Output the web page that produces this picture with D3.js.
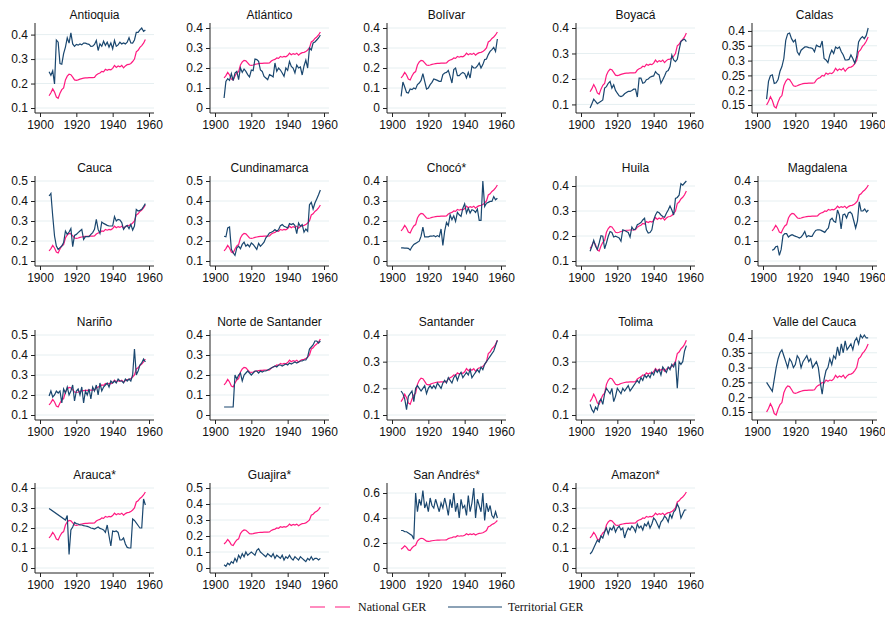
<!DOCTYPE html>
<html>
<head>
<meta charset="utf-8">
<script src="https://cdn.jsdelivr.net/npm/d3@7"></script>
<style>
  body { margin: 0; background: #fff; }
  svg { display: block; }
</style>
</head>
<body>
<svg id="chart" width="885" height="617"></svg>
<script>
// Gross enrolment ratio by territory, 1905-1958
const YEARS = d3.range(1905, 1959);

const NATIONAL = [0.150,0.162,0.178,0.165,0.145,0.140,0.160,0.175,0.182,0.215,0.230,0.238,0.236,0.226,0.215,0.213,0.215,0.218,0.220,0.222,0.223,0.223,0.224,0.224,0.224,0.225,0.235,0.240,0.243,0.250,0.248,0.258,0.254,0.258,0.256,0.262,0.274,0.266,0.272,0.268,0.274,0.264,0.272,0.277,0.278,0.282,0.290,0.300,0.330,0.336,0.348,0.355,0.365,0.380];

const ANTIOQUIA = [0.248,0.234,0.252,0.198,0.378,0.369,0.282,0.279,0.322,0.349,0.387,0.365,0.407,0.362,0.352,0.360,0.357,0.362,0.358,0.365,0.365,0.362,0.360,0.352,0.353,0.360,0.376,0.335,0.362,0.352,0.373,0.356,0.369,0.349,0.366,0.342,0.376,0.352,0.358,0.369,0.362,0.366,0.362,0.369,0.387,0.366,0.365,0.378,0.409,0.409,0.419,0.427,0.413,0.419];
const ATLANTICO = [0.050,0.133,0.147,0.138,0.172,0.137,0.175,0.183,0.142,0.200,0.178,0.195,0.183,0.167,0.155,0.190,0.187,0.245,0.242,0.233,0.190,0.183,0.158,0.150,0.142,0.167,0.162,0.155,0.225,0.183,0.200,0.190,0.175,0.158,0.200,0.188,0.233,0.208,0.200,0.175,0.215,0.200,0.205,0.165,0.210,0.240,0.200,0.300,0.290,0.325,0.330,0.340,0.350,0.365];
const BOLIVAR = [0.058,0.130,0.105,0.078,0.075,0.095,0.092,0.100,0.095,0.117,0.125,0.138,0.172,0.133,0.095,0.100,0.117,0.128,0.145,0.142,0.138,0.133,0.133,0.167,0.175,0.178,0.188,0.158,0.125,0.192,0.200,0.162,0.162,0.172,0.178,0.172,0.150,0.178,0.150,0.210,0.200,0.200,0.210,0.225,0.200,0.217,0.242,0.245,0.267,0.283,0.292,0.303,0.283,0.345];
const BOYACA = [0.086,0.103,0.121,0.112,0.103,0.108,0.112,0.118,0.164,0.170,0.183,0.190,0.164,0.177,0.155,0.144,0.134,0.131,0.134,0.142,0.147,0.151,0.151,0.155,0.160,0.160,0.129,0.203,0.203,0.183,0.186,0.197,0.200,0.207,0.210,0.212,0.229,0.220,0.216,0.183,0.197,0.212,0.229,0.233,0.249,0.294,0.275,0.268,0.277,0.314,0.347,0.353,0.356,0.347];
const CALDAS = [0.170,0.230,0.249,0.252,0.223,0.225,0.236,0.264,0.280,0.307,0.368,0.390,0.393,0.374,0.363,0.370,0.330,0.319,0.335,0.341,0.346,0.346,0.344,0.343,0.341,0.330,0.352,0.348,0.346,0.366,0.307,0.302,0.293,0.319,0.335,0.324,0.346,0.341,0.346,0.330,0.319,0.302,0.302,0.304,0.319,0.307,0.291,0.313,0.363,0.374,0.381,0.374,0.385,0.410];
const CAUCA = [0.425,0.438,0.325,0.225,0.175,0.158,0.167,0.175,0.192,0.250,0.233,0.245,0.262,0.172,0.228,0.233,0.242,0.250,0.258,0.208,0.222,0.222,0.222,0.233,0.242,0.258,0.308,0.258,0.238,0.295,0.288,0.283,0.278,0.275,0.275,0.275,0.322,0.300,0.308,0.305,0.292,0.258,0.272,0.278,0.262,0.283,0.255,0.275,0.358,0.350,0.353,0.358,0.372,0.387];
const CUNDINAMARCA = [0.224,0.221,0.265,0.270,0.158,0.141,0.128,0.166,0.174,0.161,0.183,0.194,0.174,0.183,0.171,0.190,0.183,0.171,0.158,0.188,0.174,0.183,0.194,0.216,0.227,0.240,0.244,0.249,0.257,0.249,0.257,0.277,0.282,0.274,0.270,0.265,0.287,0.282,0.287,0.277,0.237,0.290,0.274,0.282,0.244,0.260,0.249,0.381,0.393,0.360,0.390,0.410,0.431,0.455];
const CHOCO = [0.066,0.066,0.064,0.064,0.063,0.055,0.071,0.083,0.088,0.094,0.099,0.124,0.170,0.121,0.121,0.121,0.124,0.124,0.127,0.121,0.127,0.121,0.160,0.078,0.149,0.193,0.177,0.231,0.207,0.226,0.198,0.243,0.231,0.223,0.264,0.286,0.240,0.264,0.240,0.256,0.253,0.243,0.260,0.203,0.203,0.400,0.273,0.289,0.293,0.298,0.298,0.322,0.306,0.314];
const HUILA = [0.139,0.159,0.183,0.159,0.146,0.172,0.201,0.199,0.149,0.172,0.199,0.218,0.214,0.196,0.199,0.196,0.192,0.179,0.225,0.222,0.218,0.214,0.196,0.236,0.225,0.228,0.245,0.249,0.254,0.264,0.271,0.225,0.212,0.214,0.225,0.264,0.284,0.297,0.293,0.284,0.278,0.275,0.291,0.304,0.320,0.304,0.284,0.350,0.354,0.363,0.409,0.403,0.412,0.420];
const MAGDALENA = [0.054,0.058,0.071,0.074,0.028,0.058,0.127,0.137,0.137,0.120,0.127,0.132,0.127,0.123,0.120,0.115,0.120,0.132,0.148,0.120,0.127,0.123,0.123,0.140,0.153,0.156,0.156,0.153,0.148,0.143,0.156,0.165,0.206,0.214,0.198,0.193,0.255,0.230,0.160,0.230,0.235,0.215,0.240,0.245,0.235,0.200,0.165,0.200,0.296,0.250,0.250,0.260,0.245,0.255];
const NARINO = [0.195,0.220,0.190,0.200,0.220,0.210,0.220,0.160,0.230,0.210,0.240,0.200,0.220,0.250,0.170,0.220,0.230,0.200,0.240,0.160,0.220,0.200,0.230,0.180,0.240,0.220,0.250,0.200,0.260,0.220,0.240,0.250,0.260,0.240,0.270,0.260,0.270,0.260,0.280,0.270,0.270,0.260,0.280,0.270,0.280,0.270,0.300,0.430,0.300,0.320,0.350,0.360,0.380,0.365];
const NORTE_SANTANDER = [0.040,0.040,0.040,0.040,0.040,0.040,0.200,0.180,0.200,0.210,0.170,0.200,0.210,0.220,0.210,0.200,0.210,0.220,0.220,0.210,0.220,0.215,0.220,0.220,0.225,0.230,0.235,0.240,0.245,0.240,0.250,0.250,0.245,0.250,0.255,0.250,0.260,0.255,0.260,0.265,0.260,0.265,0.270,0.270,0.275,0.275,0.290,0.330,0.340,0.350,0.370,0.370,0.360,0.370];
const SANTANDER = [0.190,0.180,0.160,0.120,0.170,0.180,0.190,0.150,0.200,0.210,0.200,0.190,0.200,0.210,0.180,0.200,0.210,0.200,0.210,0.200,0.220,0.210,0.200,0.220,0.230,0.220,0.240,0.230,0.220,0.240,0.250,0.230,0.250,0.260,0.240,0.250,0.260,0.250,0.270,0.240,0.250,0.260,0.270,0.260,0.280,0.270,0.290,0.300,0.310,0.320,0.330,0.340,0.360,0.380];
const TOLIMA = [0.140,0.120,0.110,0.130,0.120,0.150,0.160,0.140,0.180,0.200,0.190,0.180,0.200,0.150,0.170,0.200,0.190,0.180,0.200,0.190,0.200,0.210,0.190,0.200,0.210,0.220,0.230,0.220,0.240,0.230,0.250,0.240,0.250,0.240,0.260,0.250,0.270,0.260,0.270,0.250,0.280,0.270,0.260,0.280,0.270,0.290,0.280,0.300,0.200,0.300,0.290,0.300,0.340,0.360];
const VALLE_CAUCA = [0.250,0.240,0.230,0.220,0.260,0.300,0.330,0.350,0.360,0.340,0.320,0.300,0.330,0.320,0.300,0.310,0.340,0.330,0.300,0.320,0.330,0.340,0.320,0.330,0.300,0.310,0.320,0.300,0.250,0.210,0.260,0.290,0.300,0.330,0.310,0.340,0.330,0.370,0.340,0.380,0.350,0.390,0.360,0.370,0.380,0.360,0.390,0.400,0.380,0.410,0.400,0.410,0.400,0.400];
const ARAUCA = [0.298,null,null,null,null,null,null,null,null,0.240,0.262,0.068,0.190,0.205,0.228,0.222,0.220,0.215,0.215,0.212,0.210,0.208,0.205,0.200,0.198,0.195,0.200,0.205,0.198,0.195,0.190,0.178,0.215,0.160,0.110,0.185,0.182,0.185,0.178,0.140,0.140,0.150,0.120,0.103,0.100,0.100,0.245,0.238,null,null,0.200,0.200,0.345,0.315];
const GUAJIRA = [0.020,0.010,0.030,0.020,0.040,0.030,0.060,0.040,0.080,0.060,0.090,0.070,0.100,0.080,0.090,0.100,0.090,0.080,0.110,0.120,0.100,0.090,0.080,0.070,0.090,0.080,0.070,0.090,0.060,0.080,0.070,0.060,0.080,0.050,0.070,0.060,0.080,0.060,0.050,0.070,0.060,0.050,0.070,0.060,0.050,0.040,0.060,0.050,0.070,0.050,0.060,0.060,0.050,0.060];
const SAN_ANDRES = [0.300,0.300,0.290,0.290,0.280,0.270,0.260,0.230,0.600,0.450,0.550,0.500,0.620,0.480,0.520,0.450,0.560,0.500,0.480,0.550,0.500,0.450,0.520,0.480,0.560,0.500,0.420,0.550,0.480,0.600,0.450,0.520,0.400,0.550,0.480,0.500,0.420,0.580,0.450,0.520,0.640,0.400,0.550,0.500,0.450,0.600,0.380,0.520,0.450,0.500,0.420,0.400,0.450,0.400];
const AMAZON = [0.070,0.080,0.100,0.120,0.140,0.130,0.160,0.150,0.180,0.200,0.170,0.200,0.190,0.210,0.180,0.200,0.210,0.190,0.200,0.150,0.180,0.200,0.190,0.210,0.200,0.180,0.220,0.200,0.210,0.190,0.220,0.210,0.230,0.200,0.220,0.250,0.240,0.220,0.200,0.230,0.240,0.260,0.250,0.230,0.270,0.250,0.280,0.290,0.320,0.300,0.250,0.270,0.290,0.290];

// Y-axis tick sets
const TICKS_01_04 = [0.1, 0.2, 0.3, 0.4];
const TICKS_0_04 = [0, 0.1, 0.2, 0.3, 0.4];
const TICKS_015_04 = [0.15, 0.2, 0.25, 0.3, 0.35, 0.4];
const TICKS_01_05 = [0.1, 0.2, 0.3, 0.4, 0.5];
const TICKS_0_05 = [0, 0.1, 0.2, 0.3, 0.4, 0.5];
const TICKS_0_06 = [0, 0.2, 0.4, 0.6];
const X_TICKS = [1900, 1920, 1940, 1960];

const NAMES = ["Antioquia","Atlántico","Bolívar","Boyacá","Caldas",
               "Cauca","Cundinamarca","Chocó*","Huila","Magdalena",
               "Nariño","Norte de Santander","Santander","Tolima","Valle del Cauca",
               "Arauca*","Guajira*","San Andrés*","Amazon*"];
const SERIES = [ANTIOQUIA, ATLANTICO, BOLIVAR, BOYACA, CALDAS,
                CAUCA, CUNDINAMARCA, CHOCO, HUILA, MAGDALENA,
                NARINO, NORTE_SANTANDER, SANTANDER, TOLIMA, VALLE_CAUCA,
                ARAUCA, GUAJIRA, SAN_ANDRES, AMAZON];
const TICKS = [TICKS_01_04, TICKS_0_04, TICKS_0_04, TICKS_01_04, TICKS_015_04,
               TICKS_01_05, TICKS_01_05, TICKS_0_04, TICKS_01_04, TICKS_0_04,
               TICKS_01_05, TICKS_0_04, TICKS_01_04, TICKS_01_04, TICKS_015_04,
               TICKS_0_04, TICKS_0_05, TICKS_0_06, TICKS_0_04];

// Layout of the 5 x 4 grid
const COL_RIGHT = [154, 329, 506, 695, 877];
const ROW_TOP = [23, 176, 330, 483];
const PLOT_H = 90, PAD = 5;
const plotWidth = ticks => ticks.some(t => Math.round(t * 100) % 10 !== 0) ? 125 : 119;

const NAT_COLOR = "#ff1a80";
const TER_COLOR = "#1a476f";
const FONT = "'Liberation Sans', Arial, Helvetica, sans-serif";

const svg = d3.select("#chart");
const fmt = d => d === 0 ? "0" : String(+d.toFixed(2));

NAMES.forEach((name, i) => {
  const col = i % 5, row = Math.floor(i / 5);
  const ticks = TICKS[i];
  const right = COL_RIGHT[col];
  const left = right - plotWidth(ticks);
  const top = ROW_TOP[row], bottom = top + PLOT_H;

  const terr = YEARS.map((y, k) => ({ year: y, v: SERIES[i][k] })).filter(d => d.v != null);
  const nat = YEARS.map((y, k) => ({ year: y, v: NATIONAL[k] }));
  const all = terr.map(d => d.v).concat(NATIONAL);
  const lo = Math.min(ticks[0], d3.min(all));
  const hi = Math.max(ticks[ticks.length - 1], d3.max(all));

  const x = d3.scaleLinear().domain([1900, 1960]).range([left + PAD, right - PAD]);
  const y = d3.scaleLinear().domain([lo, hi]).range([bottom - PAD, top + PAD]);

  const g = svg.append("g");

  // grid
  g.selectAll("line.grid").data(ticks).join("line")
    .attr("x1", left).attr("x2", right)
    .attr("y1", d => y(d)).attr("y2", d => y(d))
    .attr("stroke", "#e6eff1").attr("stroke-width", 1);

  // axes
  const yAxis = d3.axisLeft(y).tickValues(ticks).tickFormat(fmt).tickSize(4).tickPadding(3);
  const xAxis = d3.axisBottom(x).tickValues(X_TICKS).tickFormat(d3.format("d")).tickSize(4).tickPadding(3);
  const ga = g.append("g").attr("transform", `translate(${left},0)`).call(yAxis);
  const gx = g.append("g").attr("transform", `translate(0,${bottom})`).call(xAxis);
  [ga, gx].forEach(a => {
    a.select(".domain").remove();
    a.selectAll("line").attr("stroke", "#222");
    a.selectAll("text").attr("fill", "#111").style("font-family", FONT).style("font-size", "12px");
  });
  g.append("line").attr("x1", left).attr("x2", left).attr("y1", top).attr("y2", bottom).attr("stroke", "#222");
  g.append("line").attr("x1", left).attr("x2", right).attr("y1", bottom).attr("y2", bottom).attr("stroke", "#222");

  const line = d3.line().x(d => x(d.year)).y(d => y(d.v));
  g.append("path").datum(nat).attr("d", line)
    .attr("fill", "none").attr("stroke", NAT_COLOR).attr("stroke-width", 1.2);
  g.append("path").datum(terr).attr("d", line)
    .attr("fill", "none").attr("stroke", TER_COLOR).attr("stroke-width", 1.2);

  g.append("text").attr("x", (left + right) / 2).attr("y", top - 4)
    .attr("text-anchor", "middle")
    .style("font-family", FONT).style("font-size", "12px").attr("fill", "#111")
    .text(name);
});

// legend
const leg = svg.append("g").attr("transform", "translate(0,607)");
leg.append("line").attr("x1", 310).attr("x2", 350).attr("y1", 0).attr("y2", 0)
  .attr("stroke", NAT_COLOR).attr("stroke-width", 1.2).attr("stroke-dasharray", "15,10");
leg.append("text").attr("x", 358).attr("y", 4).text("National GER")
  .style("font-family", "'Liberation Serif', 'Times New Roman', serif").style("font-size", "12px").attr("fill", "#111");
leg.append("line").attr("x1", 448).attr("x2", 502).attr("y1", 0).attr("y2", 0)
  .attr("stroke", TER_COLOR).attr("stroke-width", 1.2);
leg.append("text").attr("x", 508).attr("y", 4).text("Territorial GER")
  .style("font-family", "'Liberation Serif', 'Times New Roman', serif").style("font-size", "12px").attr("fill", "#111");
</script>
</body>
</html>
